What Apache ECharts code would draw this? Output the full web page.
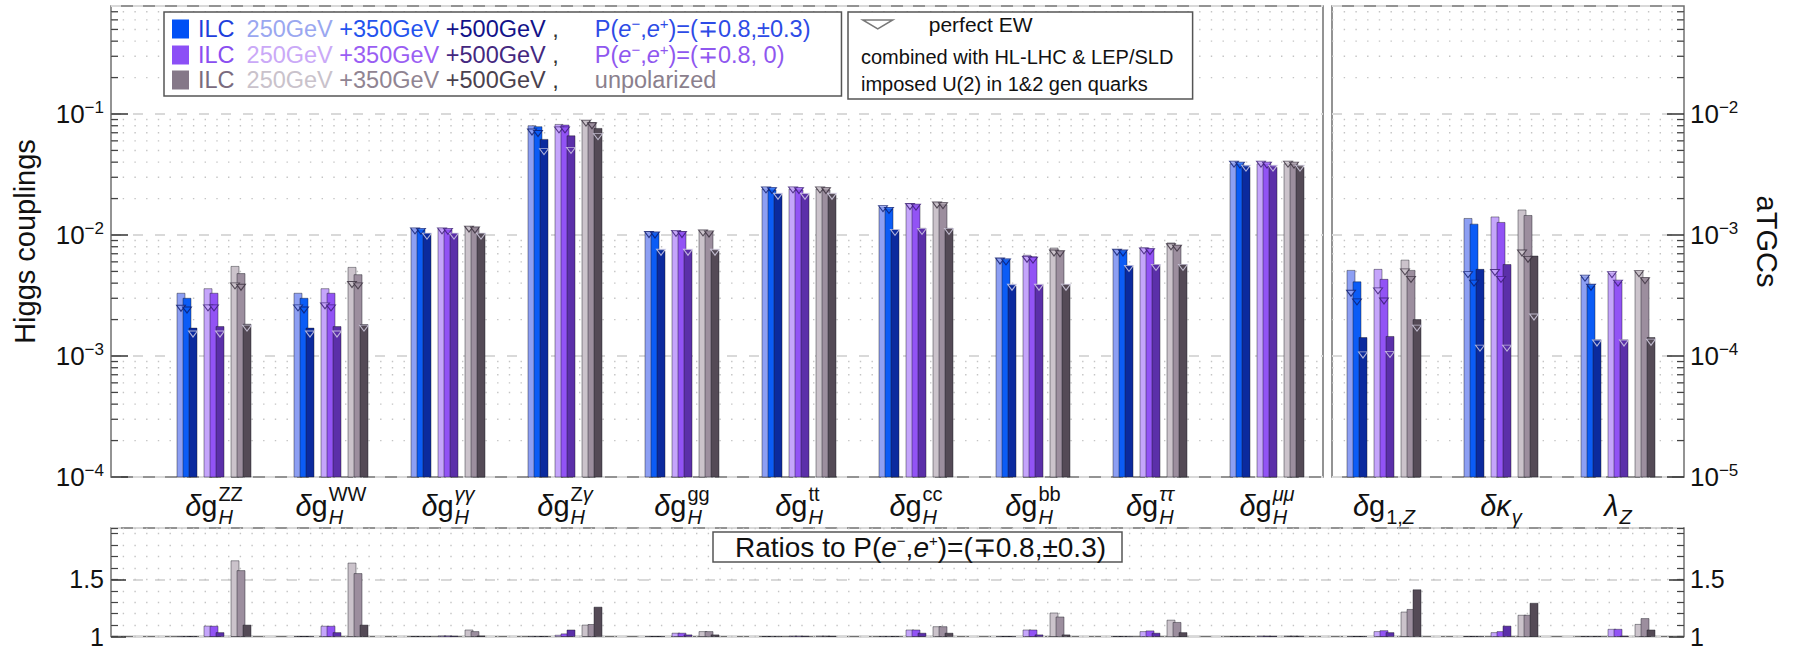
<!DOCTYPE html>
<html>
<head>
<meta charset="utf-8">
<title>ILC Higgs couplings and aTGCs</title>
<script src="https://cdn.jsdelivr.net/npm/echarts@6/dist/echarts.min.js"></script>
<style>
html, body { margin:0; padding:0; background:#ffffff; }
#chart { width:1796px; height:649px; }
</style>
</head>
<body>
<div id="chart"></div>
<script>
// ======================= DATA =======================
// 13 categories: 0..9 Higgs couplings (left axis), 10..12 aTGCs (right axis)
const categories = ['ZZ', 'WW', 'γγ', 'Zγ', 'gg', 'tt', 'cc', 'bb', 'ττ', 'μμ', 'g1,Z', 'κγ', 'λZ'];
const higgsIndex = [0, 1, 2, 3, 4, 5, 6, 7, 8, 9];
const tgcIndex = [10, 11, 12];
const allIndex = [0, 1, 2, 3, 4, 5, 6, 7, 8, 9, 10, 11, 12];

// category label pieces: [text, italic]
const labelMain = [
  [['δ', 1], ['g', 0]], [['δ', 1], ['g', 0]], [['δ', 1], ['g', 0]], [['δ', 1], ['g', 0]], [['δ', 1], ['g', 0]],
  [['δ', 1], ['g', 0]], [['δ', 1], ['g', 0]], [['δ', 1], ['g', 0]], [['δ', 1], ['g', 0]], [['δ', 1], ['g', 0]],
  [['δ', 1], ['g', 0]], [['δκ', 1]], [['λ', 1]]
];
const labelSup = [
  [['ZZ', 0]], [['WW', 0]], [['γγ', 1]], [['Z', 0], ['γ', 1]], [['gg', 0]],
  [['tt', 0]], [['cc', 0]], [['bb', 0]], [['ττ', 1]], [['μμ', 1]],
  [], [], []
];
const labelSub = [
  [['H', 1]], [['H', 1]], [['H', 1]], [['H', 1]], [['H', 1]],
  [['H', 1]], [['H', 1]], [['H', 1]], [['H', 1]], [['H', 1]],
  [['1,', 0], ['Z', 1]], [['γ', 1]], [['Z', 1]]
];

const seriesNames = [
  'ILC 250GeV +350GeV +500GeV , P(e⁻,e⁺)=(∓0.8,±0.3)',
  'ILC 250GeV +350GeV +500GeV , P(e⁻,e⁺)=(∓0.8, 0)',
  'ILC 250GeV +350GeV +500GeV , unpolarized'
];

// P(e-,e+)=(-+0.8,+-0.3)
const pol30_250 = [0.0033, 0.0033, 0.0112, 0.080, 0.01045, 0.0240, 0.0169, 0.0064, 0.0075, 0.0388, 5.1e-4, 1.37e-3, 4.5e-4];
const pol30_350 = [0.0030, 0.0030, 0.0110, 0.0785, 0.0103, 0.0236, 0.0164, 0.0062, 0.0073, 0.0383, 4.1e-4, 1.23e-3, 3.8e-4];
const pol30_500 = [0.0017, 0.0017, 0.0103, 0.0617, 0.0074, 0.0217, 0.0110, 0.0038, 0.0055, 0.0363, 1.42e-4, 5.2e-4, 1.36e-4];
// P(e-,e+)=(-+0.8,0)
const pol0_250 = [0.0036, 0.0036, 0.0112, 0.082, 0.0107, 0.0240, 0.0179, 0.0068, 0.0078, 0.0388, 5.2e-4, 1.41e-3, 4.8e-4];
const pol0_350 = [0.0033, 0.0033, 0.0110, 0.081, 0.0105, 0.0236, 0.0175, 0.0066, 0.0076, 0.0383, 4.3e-4, 1.27e-3, 4.1e-4];
const pol0_500 = [0.00175, 0.00175, 0.0103, 0.066, 0.0075, 0.0217, 0.01135, 0.00386, 0.0057, 0.0363, 1.45e-4, 5.7e-4, 1.36e-4];
// unpolarized
const unpol_250 = [0.0055, 0.0054, 0.0117, 0.088, 0.0109, 0.0240, 0.0183, 0.0078, 0.0086, 0.0388, 6.2e-4, 1.61e-3, 4.95e-4];
const unpol_350 = [0.0048, 0.0047, 0.0114, 0.085, 0.0106, 0.0236, 0.0178, 0.0073, 0.0082, 0.0383, 5.1e-4, 1.45e-3, 4.4e-4];
const unpol_500 = [0.00183, 0.00182, 0.0103, 0.076, 0.0074, 0.0216, 0.01135, 0.0039, 0.0057, 0.0363, 2.0e-4, 6.7e-4, 1.42e-4];

// perfect EW (triangles)
const pol30_250_ew = [0.00248, 0.0025, 0.0108, 0.071, 0.0101, 0.0236, 0.0165, 0.0061, 0.0072, 0.0385, 3.3e-4, 4.7e-4, 4.4e-4];
const pol30_350_ew = [0.0024, 0.0024, 0.0107, 0.069, 0.0100, 0.0233, 0.0160, 0.0060, 0.0071, 0.0378, 2.8e-4, 4.0e-4, 3.7e-4];
const pol30_500_ew = [0.00152, 0.00152, 0.0098, 0.0488, 0.0072, 0.0209, 0.0105, 0.0037, 0.0053, 0.0357, 1.02e-4, 1.16e-4, 1.28e-4];
const pol0_250_ew = [0.0025, 0.0026, 0.0108, 0.074, 0.0103, 0.0236, 0.0172, 0.0063, 0.0074, 0.0385, 3.45e-4, 4.9e-4, 4.7e-4];
const pol0_350_ew = [0.0025, 0.0025, 0.0107, 0.074, 0.0101, 0.0233, 0.0170, 0.0062, 0.0073, 0.0378, 2.85e-4, 4.3e-4, 4.0e-4];
const pol0_500_ew = [0.00152, 0.00152, 0.0098, 0.050, 0.0072, 0.0209, 0.0107, 0.0037, 0.0054, 0.0357, 1.03e-4, 1.16e-4, 1.28e-4];
const unpol_250_ew = [0.0038, 0.0039, 0.0112, 0.084, 0.0104, 0.0236, 0.0177, 0.0071, 0.0080, 0.0385, 4.95e-4, 7.1e-4, 4.8e-4];
const unpol_350_ew = [0.0037, 0.0038, 0.0110, 0.080, 0.0102, 0.0233, 0.0175, 0.0070, 0.0078, 0.0378, 4.3e-4, 6.3e-4, 4.2e-4];
const unpol_500_ew = [0.0017, 0.0017, 0.0098, 0.065, 0.0072, 0.0209, 0.0107, 0.0037, 0.0054, 0.0357, 1.7e-4, 2.1e-4, 1.3e-4];

// ratios to P(e-,e+)=(-+0.8,+-0.3)
const ratioPol30 = [1, 1, 1, 1, 1, 1, 1, 1, 1, 1, 1, 1, 1];
const ratioPol0_250 = [1.091, 1.09, 1.005, 1.011, 1.029, 1.003, 1.057, 1.057, 1.043, 1.003, 1.043, 1.034, 1.063];
const ratioPol0_350 = [1.09, 1.09, 1.005, 1.023, 1.029, 1.003, 1.057, 1.057, 1.049, 1.003, 1.051, 1.043, 1.063];
const ratioPol0_500 = [1.034, 1.034, 1.003, 1.057, 1.014, 1.002, 1.029, 1.014, 1.029, 1.002, 1.034, 1.091, 1.003];
const ratioUnpol_250 = [1.663, 1.643, 1.057, 1.10, 1.043, 1.003, 1.086, 1.206, 1.143, 1.003, 1.214, 1.186, 1.106];
const ratioUnpol_350 = [1.577, 1.551, 1.043, 1.105, 1.043, 1.003, 1.086, 1.171, 1.123, 1.003, 1.237, 1.186, 1.157];
const ratioUnpol_500 = [1.10, 1.10, 1.005, 1.257, 1.014, 1.002, 1.029, 1.014, 1.034, 1.002, 1.409, 1.291, 1.057];

// axis tick values
const higgsDecades = [1e-4, 1e-3, 1e-2, 1e-1];
const tgcDecades = [1e-5, 1e-4, 1e-3, 1e-2];
const minorMultipliers = [2, 3, 4, 5, 6, 7, 8, 9];

// ======================= LAYOUT / STYLE =======================
const FONT = '"Liberation Sans", Arial, Helvetica, sans-serif';
const CAT_PX = 117, FIRST_CENTER = 214;
const GRID_L = 111, SPLIT_L = 1323, SPLIT_R = 1332, GRID_R = 1684;
const MAIN_TOP = 6, MAIN_BOT = 477, RATIO_TOP = 528, RATIO_BOT = 638;
const MAIN_MAX = 0.781, TGC_MAX = 0.0781;
const BAR0 = -37, BAR_W = 8, BAR_STEP = 6, GROUP_STEP = 27;
const toUnit = px => (px - FIRST_CENTER) / CAT_PX;

const COLORS = [
  ['#8d9ff3', '#0b5cf6', '#0b2a9e'],
  ['#c5a5fb', '#9253f5', '#5b2fa9'],
  ['#cbc3cb', '#9c8e9e', '#544a56']
];
const TRI_DARK = ['#0c1a6a', '#36196f', '#362c3a'];
const TRI_LIGHT = '#d9d6ea';
const LEGEND_COLORS = ['#0050f5', '#8c4ff6', '#857888'];

const mainValues = [[pol30_250, pol30_350, pol30_500], [pol0_250, pol0_350, pol0_500], [unpol_250, unpol_350, unpol_500]];
const ewValues = [[pol30_250_ew, pol30_350_ew, pol30_500_ew], [pol0_250_ew, pol0_350_ew, pol0_500_ew], [unpol_250_ew, unpol_350_ew, unpol_500_ew]];
const ratioValues = [[ratioPol30, ratioPol30, ratioPol30], [ratioPol0_250, ratioPol0_350, ratioPol0_500], [ratioUnpol_250, ratioUnpol_350, ratioUnpol_500]];

// ======================= HELPERS =======================
const mctx = document.createElement('canvas').getContext('2d');
function fontOf(size, italic) { return (italic ? 'italic ' : '') + size + 'px ' + FONT; }
function textW(str, size, italic) { mctx.font = fontOf(size, italic); return mctx.measureText(str).width; }
function piecesWidth(pcs, size) { return pcs.reduce((s, p) => s + textW(p[0], size, p[1]), 0); }
function piecesEls(pcs, size, x, y, out) {
  for (const p of pcs) {
    out.push({ type: 'text', x: x, y: y, style: { text: p[0], fontSize: size, fontFamily: FONT, fontStyle: p[1] ? 'italic' : 'normal', fill: '#111', align: 'left', verticalAlign: 'middle' } });
    x += textW(p[0], size, p[1]);
  }
}

function barOffset(g, e) { return (BAR0 + g * GROUP_STEP + e * BAR_STEP) / CAT_PX; }

function barRenderer(g) {
  return function (params, api) {
    const k = api.value(0), v = api.value(1), e = api.value(2);
    const l = k + barOffset(g, e);
    const a = api.coord([l, v]);
    const b = api.coord([l + BAR_W / CAT_PX, v]);
    const cs = params.coordSys;
    const bottom = cs.y + cs.height;
    return {
      type: 'rect',
      shape: { x: a[0], y: a[1], width: b[0] - a[0], height: bottom - a[1] },
      style: { fill: COLORS[g][e], stroke: 'rgba(25,25,35,0.55)', lineWidth: 0.8 }
    };
  };
}

function buildBarData(vals3, idx) {
  const out = [];
  idx.forEach(k => { for (let e = 0; e < 3; e++) out.push([k, vals3[e][k], e]); });
  return out;
}

function buildEwData(idx) {
  const out = [];
  idx.forEach(k => {
    for (let g = 0; g < 3; g++) for (let e = 0; e < 3; e++) {
      out.push({
        value: [k + barOffset(g, e) + BAR_W / 2 / CAT_PX, ewValues[g][e][k]],
        itemStyle: { color: COLORS[g][e], borderColor: e < 2 ? TRI_DARK[g] : TRI_LIGHT, borderWidth: 1 }
      });
    }
  });
  return out;
}

function labelRenderer(params, api) {
  const k = api.value(0);
  const cs = params.coordSys;
  const base = cs.y + cs.height;
  const cx = api.coord([k, api.value(1)])[0];
  const mw = piecesWidth(labelMain[k], 29);
  const sw = Math.max(piecesWidth(labelSup[k], 20), piecesWidth(labelSub[k], 20));
  const x0 = cx - (mw + 1 + sw) / 2;
  const els = [];
  piecesEls(labelMain[k], 29, x0, base + 29, els);
  piecesEls(labelSup[k], 20, x0 + mw + 1, base + 17, els);
  piecesEls(labelSub[k], 20, x0 + mw + 1, base + 40, els);
  return { type: 'group', children: els };
}

// minor log gridlines (dotted) + small inside ticks
function decoRenderer(side) {
  return function (params, api) {
    const y = api.coord([api.value(0), api.value(1)])[1];
    const cs = params.coordSys;
    const x0 = cs.x, x1 = cs.x + cs.width;
    const t = side === 'left' ? [x0, x0 + 7] : [x1 - 7, x1];
    return {
      type: 'group',
      children: [
        { type: 'line', shape: { x1: x0, y1: y, x2: x1, y2: y }, style: { stroke: '#c4c4c4', lineWidth: 1.4, lineDash: [1.4, 10.3] } },
        { type: 'line', shape: { x1: t[0], y1: y, x2: t[1], y2: y }, style: { stroke: '#444', lineWidth: 1.3 } }
      ]
    };
  };
}
function minorData(decades, xk, maxV) {
  const out = [];
  decades.forEach(d => minorMultipliers.forEach(m => { const v = m * d; if (v < maxV) out.push([xk, v]); }));
  return out;
}

function powLabel(v) {
  const n = Math.round(Math.log10(v));
  return '{b|10}{s|' + (n < 0 ? '−' : '') + Math.abs(n) + '}';
}
const POW_RICH = {
  b: { fontSize: 26, fontFamily: FONT, color: '#111', lineHeight: 30 },
  s: { fontSize: 17, fontFamily: FONT, color: '#111', lineHeight: 14, verticalAlign: 'top' }
};

// ======================= LEGEND TEXT =======================
const LEG_ROW = [
  { i: '#1f3fdc', a: '#9aa7f0', b: '#2353ee', c: '#121289', p: '#2d4be6' },
  { i: '#8a4ef0', a: '#caa9f7', b: '#9a5ef3', c: '#44287f', p: '#8f57ef' },
  { i: '#7a6b7e', a: '#c9c2cb', b: '#908492', c: '#4a414e', p: '#8b7f8d' }
];
const LEG_FS = 23.5;
const legendRich = { g: { width: 4 }, k: { fontSize: LEG_FS, fontFamily: FONT, color: '#333', lineHeight: 26, padding: [0, 36, 0, 0] } };
LEG_ROW.forEach((r, idx) => {
  const n = idx + 1;
  const base = { fontSize: LEG_FS, fontFamily: FONT, lineHeight: 26 };
  legendRich['i' + n] = Object.assign({}, base, { color: r.i, padding: [0, 12, 0, 0] });
  legendRich['a' + n] = Object.assign({}, base, { color: r.a });
  legendRich['b' + n] = Object.assign({}, base, { color: r.b });
  legendRich['c' + n] = Object.assign({}, base, { color: r.c });
  legendRich['p' + n] = Object.assign({}, base, { color: r.p });
  legendRich['e' + n] = Object.assign({}, base, { color: r.p, fontStyle: 'italic' });
  legendRich['s' + n] = { fontSize: 15, fontFamily: FONT, color: r.p, lineHeight: 14, verticalAlign: 'top' };
});
function legendFormatter(name) {
  const idx = seriesNames.indexOf(name);
  const n = idx + 1;
  const head = '{g| }{i' + n + '|ILC}{a' + n + '|250GeV} {b' + n + '|+350GeV} {c' + n + '|+500GeV} {k|,}';
  if (idx === 0) return head + '{p1|P(}{e1|e}{s1|−}{p1|,}{e1|e}{s1|+}{p1|)=(∓0.8,±0.3)}';
  if (idx === 1) return head + '{p2|P(}{e2|e}{s2|−}{p2|,}{e2|e}{s2|+}{p2|)=(∓0.8, 0)}';
  return head + '{p3|unpolarized}';
}

// ======================= SERIES =======================
const series = [];
for (let g = 0; g < 3; g++) {
  series.push({ type: 'custom', name: seriesNames[g], xAxisIndex: 0, yAxisIndex: 0, renderItem: barRenderer(g), encode: { x: 0, y: 1 }, itemStyle: { color: LEGEND_COLORS[g] }, data: buildBarData(mainValues[g], higgsIndex), z: 2, silent: true });
  series.push({ type: 'custom', name: seriesNames[g], xAxisIndex: 1, yAxisIndex: 1, renderItem: barRenderer(g), encode: { x: 0, y: 1 }, itemStyle: { color: LEGEND_COLORS[g] }, data: buildBarData(mainValues[g], tgcIndex), z: 2, silent: true });
  series.push({ type: 'custom', name: seriesNames[g], xAxisIndex: 2, yAxisIndex: 2, renderItem: barRenderer(g), encode: { x: 0, y: 1 }, itemStyle: { color: LEGEND_COLORS[g] }, data: buildBarData(ratioValues[g], allIndex), z: 2, silent: true });
}
const TRI = 'path://M0,0L10,0L5,7Z';
series.push({ type: 'scatter', name: 'perfect EW', xAxisIndex: 0, yAxisIndex: 0, symbol: TRI, symbolSize: [9, 6], itemStyle: { color: '#fff', borderColor: '#555' }, data: buildEwData(higgsIndex), z: 5, silent: true });
series.push({ type: 'scatter', name: 'perfect EW', xAxisIndex: 1, yAxisIndex: 1, symbol: TRI, symbolSize: [9, 6], itemStyle: { color: '#fff', borderColor: '#555' }, data: buildEwData(tgcIndex), z: 5, silent: true });
series.push({ type: 'custom', name: 'labels-higgs', xAxisIndex: 0, yAxisIndex: 0, renderItem: labelRenderer, encode: { x: 0, y: 1 }, data: higgsIndex.map(k => [k, 1e-4]), z: 3, silent: true });
series.push({ type: 'custom', name: 'labels-tgc', xAxisIndex: 1, yAxisIndex: 1, renderItem: labelRenderer, encode: { x: 0, y: 1 }, data: tgcIndex.map(k => [k, 1e-5]), z: 3, silent: true });
series.push({ type: 'custom', name: 'grid-higgs', xAxisIndex: 0, yAxisIndex: 0, renderItem: decoRenderer('left'), encode: { x: 0, y: 1 }, data: minorData(higgsDecades, 0, MAIN_MAX), z: 1, silent: true });
series.push({ type: 'custom', name: 'grid-tgc', xAxisIndex: 1, yAxisIndex: 1, renderItem: decoRenderer('right'), encode: { x: 0, y: 1 }, data: minorData(tgcDecades, 10, TGC_MAX), z: 1, silent: true });

// ======================= OPTION =======================
const gridStyle = { show: true, borderColor: '#707070', borderWidth: 1.5, backgroundColor: 'transparent' };
const dashedSplit = { show: true, lineStyle: { color: '#d9d9d9', width: 2, type: [10, 12] } };
const dottedSplit = { show: true, lineStyle: { color: '#c4c4c4', width: 1.4, type: [1.4, 10.3] } };
const noLine = { show: false, onZero: false };

const option = {
  animation: false,
  backgroundColor: '#ffffff',
  textStyle: { fontFamily: FONT },
  grid: [
    Object.assign({ left: GRID_L, top: MAIN_TOP, width: SPLIT_L - GRID_L, height: MAIN_BOT - MAIN_TOP }, gridStyle),
    Object.assign({ left: SPLIT_R, top: MAIN_TOP, width: GRID_R - SPLIT_R, height: MAIN_BOT - MAIN_TOP }, gridStyle),
    Object.assign({ left: GRID_L, top: RATIO_TOP, width: GRID_R - GRID_L, height: RATIO_BOT - RATIO_TOP }, gridStyle)
  ],
  xAxis: [
    { type: 'value', gridIndex: 0, min: toUnit(GRID_L), max: toUnit(SPLIT_L), show: false, axisLine: { onZero: false } },
    { type: 'value', gridIndex: 1, min: toUnit(SPLIT_R), max: toUnit(GRID_R), show: false, axisLine: { onZero: false } },
    { type: 'value', gridIndex: 2, min: toUnit(GRID_L), max: toUnit(GRID_R), show: false, axisLine: { onZero: false } }
  ],
  yAxis: [
    {
      type: 'log', logBase: 10, gridIndex: 0, min: 1e-4, max: MAIN_MAX, position: 'left',
      name: 'Higgs couplings', nameLocation: 'middle', nameGap: 72,
      nameTextStyle: { fontSize: 29, fontFamily: FONT, color: '#111' },
      axisLine: noLine,
      axisTick: { show: true, inside: true, length: 17, lineStyle: { color: '#333', width: 1.5 } },
      axisLabel: { formatter: powLabel, rich: POW_RICH, showMaxLabel: false, margin: 7 },
      splitLine: dashedSplit
    },
    {
      type: 'log', logBase: 10, gridIndex: 1, min: 1e-5, max: TGC_MAX, position: 'right',
      name: 'aTGCs', nameLocation: 'middle', nameGap: 68, nameRotate: -90,
      nameTextStyle: { fontSize: 29, fontFamily: FONT, color: '#111' },
      axisLine: noLine,
      axisTick: { show: true, inside: true, length: 17, lineStyle: { color: '#333', width: 1.5 } },
      axisLabel: { formatter: powLabel, rich: POW_RICH, showMaxLabel: false, margin: 6 },
      splitLine: dashedSplit
    },
    {
      type: 'value', gridIndex: 2, min: 1, max: 1.95, interval: 0.5, position: 'left',
      axisLine: noLine,
      axisTick: { show: true, inside: true, length: 15, lineStyle: { color: '#333', width: 1.5 } },
      axisLabel: { showMaxLabel: false, fontSize: 25, fontFamily: FONT, color: '#111', margin: 7 },
      splitLine: dashedSplit
    },
    {
      type: 'value', gridIndex: 2, min: 1, max: 1.95, interval: 0.1, position: 'left',
      axisLine: noLine,
      axisTick: { show: true, inside: true, length: 7, lineStyle: { color: '#444', width: 1.2 } },
      axisLabel: { show: false },
      splitLine: dottedSplit
    },
    {
      type: 'value', gridIndex: 2, min: 1, max: 1.95, interval: 0.5, position: 'right',
      axisLine: noLine,
      axisTick: { show: true, inside: true, length: 15, lineStyle: { color: '#333', width: 1.5 } },
      axisLabel: { showMaxLabel: false, fontSize: 25, fontFamily: FONT, color: '#111', margin: 6 },
      splitLine: { show: false }
    },
    {
      type: 'value', gridIndex: 2, min: 1, max: 1.95, interval: 0.1, position: 'right',
      axisLine: noLine,
      axisTick: { show: true, inside: true, length: 7, lineStyle: { color: '#444', width: 1.2 } },
      axisLabel: { show: false },
      splitLine: { show: false }
    }
  ],
  legend: [
    {
      data: seriesNames.map(n => ({ name: n, icon: 'rect' })),
      orient: 'vertical', left: 164, top: 12,
      itemWidth: 17, itemHeight: 19, itemGap: 1,
      padding: [4, 31, 4, 8],
      borderColor: '#555', borderWidth: 1.5, backgroundColor: '#fff',
      selectedMode: false,
      formatter: legendFormatter,
      textStyle: { fontSize: LEG_FS, fontFamily: FONT, rich: legendRich }
    },
    {
      data: [{ name: 'perfect EW', icon: 'path://M0,0L30,0L15,9Z', itemStyle: { color: '#ffffff', borderColor: '#555555', borderWidth: 1.5 } }],
      orient: 'vertical', left: 848, top: 12,
      itemWidth: 30, itemHeight: 9,
      padding: [2, 160, 64, 14],
      borderColor: '#555', borderWidth: 1.5, backgroundColor: '#fff',
      selectedMode: false,
      formatter: '{g| }{t|perfect EW}',
      textStyle: { rich: { g: { width: 31 }, t: { fontSize: 21, fontFamily: FONT, color: '#111', lineHeight: 24 } } }
    }
  ],
  title: {
    text: '{n|Ratios to P(}{e|e}{s|−}{n|,}{e|e}{s|+}{n|)=(∓0.8,±0.3)}',
    left: 713, top: 532,
    padding: [1, 16, 1, 22],
    borderColor: '#555', borderWidth: 1.5, backgroundColor: '#fff',
    textStyle: {
      fontWeight: 'normal',
      rich: {
        n: { fontSize: 28, fontFamily: FONT, fontWeight: 'normal', color: '#111', lineHeight: 28 },
        e: { fontSize: 28, fontFamily: FONT, fontWeight: 'normal', color: '#111', fontStyle: 'italic', lineHeight: 28 },
        s: { fontSize: 15, fontFamily: FONT, fontWeight: 'normal', color: '#111', lineHeight: 14, verticalAlign: 'top' }
      }
    }
  },
  graphic: {
    elements: [
      { type: 'text', x: 861, y: 57, z: 50, silent: true, style: { text: 'combined with HL-LHC & LEP/SLD', fontSize: 20, fontFamily: FONT, fill: '#111', verticalAlign: 'middle' } },
      { type: 'text', x: 861, y: 84, z: 50, silent: true, style: { text: 'imposed U(2) in 1&2 gen quarks', fontSize: 20, fontFamily: FONT, fill: '#111', verticalAlign: 'middle' } }
    ]
  },
  series: series
};

const chart = echarts.init(document.getElementById('chart'), null, { renderer: 'svg' });
chart.setOption(option);
</script>
</body>
</html>
